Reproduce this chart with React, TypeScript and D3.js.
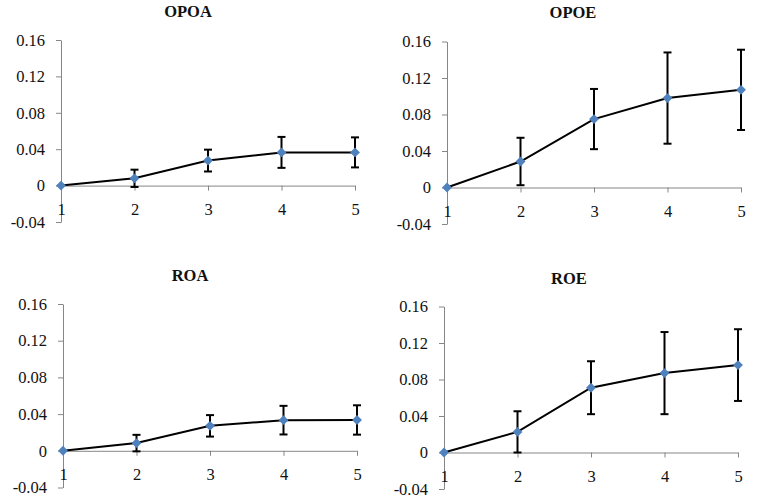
import React, {useEffect, useRef} from "react";
import * as d3 from "d3";

const categories = [1, 2, 3, 4, 5];
const yTicks = [-0.04, 0, 0.04, 0.08, 0.12, 0.16];

const opoaMean = [0, 0.008, 0.0275, 0.0365, 0.0365];
const opoaErr = [0, 0.0095, 0.012, 0.017, 0.0165];
const opoeMean = [0, 0.0285, 0.075, 0.098, 0.107];
const opoeErr = [0, 0.026, 0.033, 0.05, 0.044];
const roaMean = [0, 0.0084, 0.0272, 0.0334, 0.0336];
const roaErr = [0, 0.009, 0.0117, 0.0156, 0.016];
const roeMean = [0, 0.0226, 0.071, 0.087, 0.0958];
const roeErr = [0, 0.0226, 0.029, 0.045, 0.0393];

const panels = [
  {title: "OPOA", mean: opoaMean, err: opoaErr, x0: 61, x1: 355, yTop: 40, yBot: 222, tx: 188, ty: 17},
  {title: "OPOE", mean: opoeMean, err: opoeErr, x0: 447, x1: 741, yTop: 41.5, yBot: 224, tx: 573, ty: 18},
  {title: "ROA", mean: roaMean, err: roaErr, x0: 63, x1: 357, yTop: 304, yBot: 487.5, tx: 190, ty: 281},
  {title: "ROE", mean: roeMean, err: roeErr, x0: 444, x1: 738, yTop: 306.5, yBot: 489, tx: 569, ty: 284},
];

const FONT = "'Liberation Serif', 'Times New Roman', serif";
const AXIS = "#868686";
const TEXT = "#111";
const BLUE = "#4F81BD";

// excel style: plain hyphen for negatives, bare "0"
const fmt = (d: number) => (d === 0 ? "0" : (d < 0 ? "-" : "") + Math.abs(d).toFixed(2));

export default function App() {
  const ref = useRef<SVGSVGElement>(null);

  useEffect(() => {
    const svg = d3.select(ref.current);
    svg.selectAll("*").remove();

    panels.forEach((p) => {
      const x = d3.scaleLinear().domain([1, 5]).range([p.x0, p.x1]);
      const y = d3.scaleLinear().domain([-0.04, 0.16]).range([p.yBot, p.yTop]);
      const g = svg.append("g");

      // title
      g.append("text")
        .attr("x", p.tx)
        .attr("y", p.ty)
        .attr("text-anchor", "middle")
        .style("font-family", FONT)
        .style("font-weight", "bold")
        .style("font-size", "16.5px")
        .style("fill", TEXT)
        .text(p.title);

      // y axis
      const ya = g.append("g")
        .attr("transform", `translate(${p.x0},0)`)
        .call(
          d3.axisLeft(y)
            .tickValues(yTicks)
            .tickSize(5)
            .tickSizeOuter(0)
            .tickPadding(11)
            .tickFormat((d: any) => fmt(+d))
        );
      ya.select(".domain").attr("stroke", AXIS);
      ya.selectAll(".tick line").attr("stroke", AXIS);
      ya.selectAll("text")
        .style("font-family", FONT)
        .style("font-size", "16.5px")
        .style("fill", TEXT);

      // x axis at zero
      const xa = g.append("g")
        .attr("transform", `translate(0,${y(0)})`)
        .call(
          d3.axisBottom(x)
            .tickValues(categories)
            .tickSize(5)
            .tickSizeOuter(0)
            .tickPadding(12.5)
            .tickFormat((d: any) => String(d))
        );
      xa.select(".domain").attr("stroke", AXIS);
      xa.selectAll(".tick line").attr("stroke", AXIS);
      xa.selectAll("text")
        .style("font-family", FONT)
        .style("font-size", "16.5px")
        .style("fill", TEXT);

      const pts = categories.map((c, i) => ({c, m: p.mean[i], e: p.err[i]}));

      // line
      const line = d3.line<any>().x((d) => x(d.c)).y((d) => y(d.m));
      g.append("path")
        .datum(pts)
        .attr("d", line)
        .attr("fill", "none")
        .attr("stroke", "#000")
        .attr("stroke-width", 2);

      // error bars
      const eb = g.selectAll(".eb").data(pts.filter((d) => d.e > 0)).enter().append("g");
      eb.append("line")
        .attr("x1", (d) => x(d.c))
        .attr("x2", (d) => x(d.c))
        .attr("y1", (d) => y(d.m + d.e))
        .attr("y2", (d) => y(d.m - d.e))
        .attr("stroke", "#000")
        .attr("stroke-width", 2);
      [1, -1].forEach((s) => {
        eb.append("line")
          .attr("x1", (d) => x(d.c) - 4)
          .attr("x2", (d) => x(d.c) + 4)
          .attr("y1", (d) => y(d.m + s * d.e))
          .attr("y2", (d) => y(d.m + s * d.e))
          .attr("stroke", "#000")
          .attr("stroke-width", 2);
      });

      // markers
      const diamond = d3.symbol().type(d3.symbolDiamond2).size(62);
      g.selectAll(".mk")
        .data(pts)
        .enter()
        .append("path")
        .attr("d", diamond as any)
        .attr("transform", (d) => `translate(${x(d.c)},${y(d.m)})`)
        .attr("fill", BLUE);
    });
  }, []);

  return (
    <svg
      ref={ref}
      width={768}
      height={502}
      style={{position: "absolute", left: 0, top: 0, background: "#fff"}}
    />
  );
}
